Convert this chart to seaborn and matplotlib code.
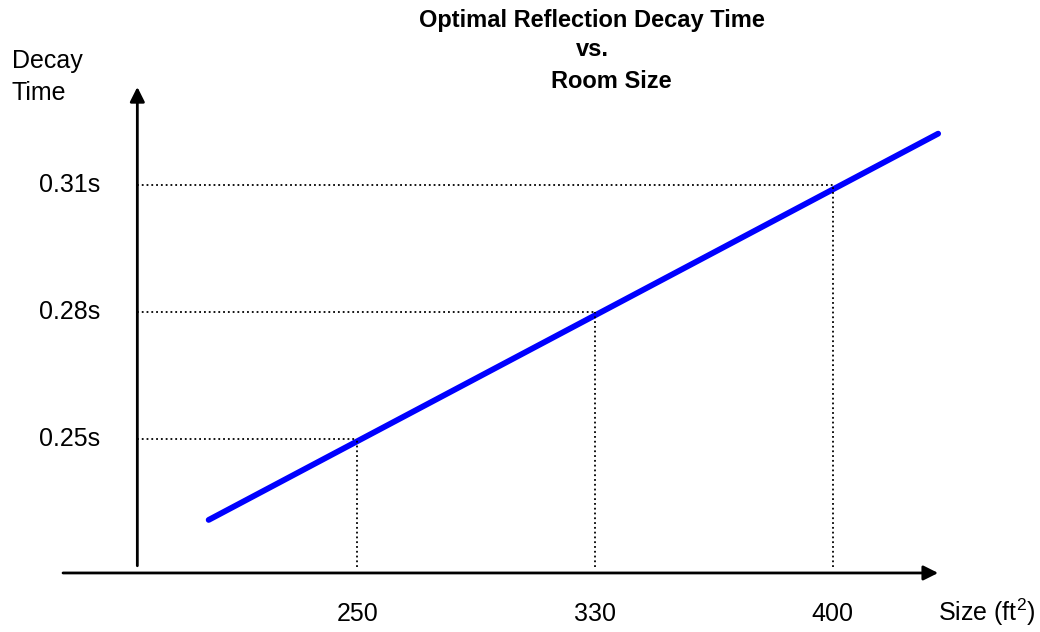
import numpy as np
import pandas as pd
import seaborn as sns
import matplotlib.pyplot as plt

# values (schematic chart)
size_ticks = [250, 330, 400]
decay_ticks = [0.25, 0.28, 0.31]
decay_labels = ["0.25s", "0.28s", "0.31s"]
line_size = [200, 431]
line_decay = [0.231, 0.322]
title_lines = ["Optimal Reflection Decay Time", "vs.", "Room Size"]

sns.set_theme(style="white")
plt.rcParams["font.family"] = ["Liberation Sans", "DejaVu Sans"]
plt.rcParams["mathtext.fontset"] = "custom"
plt.rcParams["mathtext.rm"] = "Liberation Sans"
plt.rcParams["text.color"] = "black"


# the x axis is schematic: ticks are evenly spaced even though the gaps differ
def size_fwd(v):
    v = np.asarray(v, dtype=float)
    lo = (v - size_ticks[1]) / (size_ticks[1] - size_ticks[0])
    hi = (v - size_ticks[1]) / (size_ticks[2] - size_ticks[1])
    return np.where(v < size_ticks[1], lo, hi)


def size_inv(u):
    u = np.asarray(u, dtype=float)
    lo = size_ticks[1] + u * (size_ticks[1] - size_ticks[0])
    hi = size_ticks[1] + u * (size_ticks[2] - size_ticks[1])
    return np.where(u < 0, lo, hi)


fig = plt.figure(figsize=(10.4, 6.32), dpi=100)
ax = fig.add_axes([0.0606, 0.0934, 0.848, 0.769])
ax.set_xscale("function", functions=(size_fwd, size_inv))
ax.set_xlim(151, 433)
ax.set_ylim(0.2185, 0.333)
ax.set_axis_off()

x_left, x_right = ax.get_xlim()
y_bottom, y_top = ax.get_ylim()
yaxis_at = 176

df = pd.DataFrame({"size": line_size, "decay": line_decay})
sns.lineplot(data=df, x="size", y="decay", color="#0000FF", lw=4.2, ax=ax)

# dotted guide lines
for s, d in zip(size_ticks, decay_ticks):
    ax.plot([yaxis_at, s], [d, d], color="black", lw=1.3, ls=":")
    ax.plot([s, s], [y_bottom + 0.0014, d], color="black", lw=1.3, ls=":")

# axis arrows
arrow = dict(arrowstyle="-|>", lw=2, color="black", fc="black",
             mutation_scale=22, shrinkA=0, shrinkB=0)
ax.annotate("", xy=(431, y_bottom), xytext=(x_left, y_bottom),
            arrowprops=arrow, annotation_clip=False)
ax.annotate("", xy=(yaxis_at, y_top), xytext=(yaxis_at, y_bottom + 0.0017),
            arrowprops=arrow, annotation_clip=False)

# tick labels
for d, lab in zip(decay_ticks, decay_labels):
    ax.annotate(lab, xy=(yaxis_at, d), xytext=(-27, 0), textcoords="offset points",
                ha="right", va="center", fontsize=18, annotation_clip=False)
for s in size_ticks:
    ax.annotate(str(s), xy=(s, y_bottom), xytext=(0, -29.5), textcoords="offset points",
                ha="center", va="center", fontsize=18, annotation_clip=False)

fig.text(938 / 1040, 1 - 612 / 632, "Size (ft$^2$)", ha="left", va="center", fontsize=18)
fig.text(12 / 1040, 1 - 77 / 632, "Decay\nTime", ha="left", va="center",
         fontsize=18, linespacing=1.45)

# title, one text per line
for line, tx, ty in zip(title_lines, [592, 592, 611], [20, 50, 82]):
    fig.text(tx / 1040, 1 - ty / 632, line, ha="center", va="center",
             fontsize=17, fontweight="bold")

fig.savefig("out.png", dpi=100)
